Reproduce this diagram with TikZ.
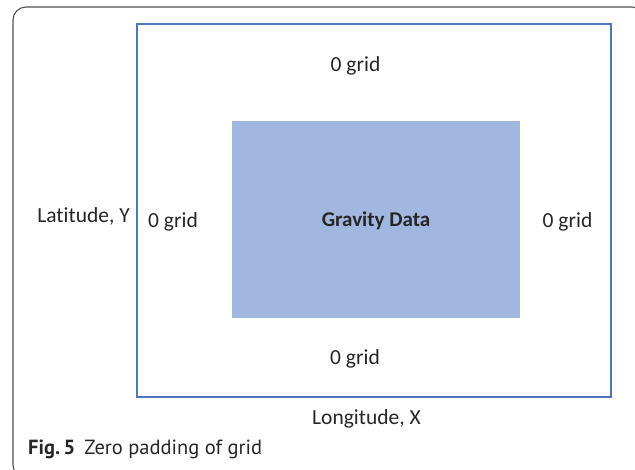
\documentclass[tikz,border=0pt]{standalone}
\usepackage{fontspec}
\setmainfont[Ligatures={NoCommon}]{Carlito}
\newfontfamily\capfont{PT Sans}
\definecolor{frameblue}{HTML}{4F74C0}
\definecolor{datafill}{HTML}{A2B7DF}
\definecolor{framegray}{HTML}{505050}
\begin{document}
\begin{tikzpicture}[x=1pt,y=-1pt,
  lbl/.style={font=\fontsize{21.5}{23}\selectfont, text=black!85, inner sep=0pt, anchor=base},
  capt/.style={font=\capfont\fontsize{20.5}{23}\selectfont, text=black!85, inner sep=0pt, anchor=base west}]
\useasboundingbox (0,0) rectangle (635,469);
\begin{scope}
\clip (0,0) rectangle (635,469);
\draw[framegray, line width=1.1pt, rounded corners=13pt] (13,7) rectangle (645,478);
\end{scope}
\node[draw=frameblue, line width=2.2pt, minimum width=474pt, minimum height=373pt, inner sep=0pt] (grid) at (374,210.5) {};
\node[fill=datafill, minimum width=288pt, minimum height=197pt, inner sep=0pt] (data) at (376,219.5) {};
\node[lbl, font=\bfseries\fontsize{21}{23}\selectfont] (gd) at (376,226) {Gravity Data};
\node[lbl] (top) at (355.5,71) {0 grid};
\node[lbl] (bot) at (355,364) {0 grid};
\node[lbl] (left) at (173,227) {0 grid};
\node[lbl] (right) at (567.5,227) {0 grid};
\node[lbl, anchor=base east] (lat) at (130,222) {Latitude, Y};
\node[lbl] (lon) at (366.5,424) {Longitude, X};
\node[capt] (cap) at (28,454) {\textbf{Fig.\,5}\hspace{0.45em}Zero padding of grid};
\end{tikzpicture}
\end{document}
